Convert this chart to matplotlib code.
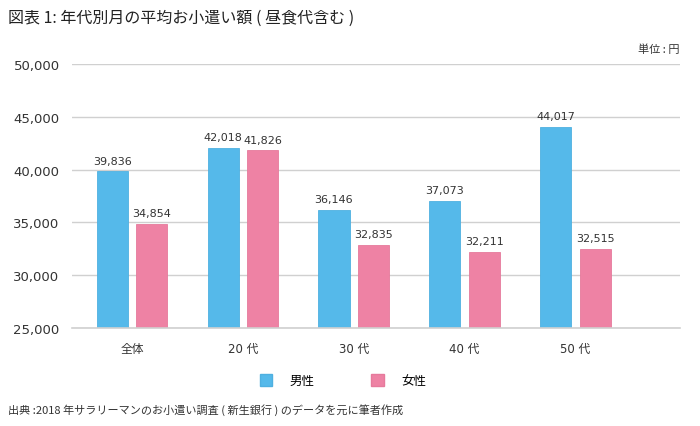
import matplotlib.pyplot as plt
from matplotlib.patches import Patch
import numpy as np

plt.rcParams['font.family'] = ['Noto Sans CJK JP', 'DejaVu Sans']
num_font = ['DejaVu Sans', 'Noto Sans CJK JP']

categories = ['全体', '20 代', '30 代', '40 代', '50 代']
male = [39836, 42018, 36146, 37073, 44017]
female = [34854, 41826, 32835, 32211, 32515]
yticks = [25000, 30000, 35000, 40000, 45000, 50000]

blue = '#55B9EA'
pink = '#EE82A4'

fig = plt.figure(figsize=(7, 4.27), dpi=100)
ax = fig.add_axes([0.103, 0.2295, 0.868, 0.6183])

x = np.arange(len(categories))
w = 0.28
off = 0.178
ax.bar(x - off, male, w, color=blue, edgecolor='#4fb0e0', linewidth=0.6, zorder=3)
ax.bar(x + off, female, w, color=pink, edgecolor='#e67a9c', linewidth=0.6, zorder=3)

# 棒の上に値を表示
for xi, v in zip(x, male):
    ax.text(xi - off, v + 550, f'{v:,}', ha='center', va='bottom', fontsize=8,
            color='#333333', family=num_font)
for xi, v in zip(x, female):
    ax.text(xi + off, v + 550, f'{v:,}', ha='center', va='bottom', fontsize=8,
            color='#333333', family=num_font)

ax.set_xlim(-0.54, 4.94)
ax.set_ylim(25000, 50000)
ax.set_yticks(yticks)
ax.set_yticklabels([f'{t:,}' for t in yticks], fontsize=9.5, color='#333333', family=num_font)
ax.set_xticks(x)
ax.set_xticklabels(categories, fontsize=8.5, color='#333333', family=num_font)
ax.tick_params(axis='both', length=0)
ax.tick_params(axis='y', pad=9)
ax.tick_params(axis='x', pad=10)
ax.grid(axis='y', color='#d0d0d0', linewidth=1, zorder=0)
ax.axhline(yticks[0], color='#d0d0d0', linewidth=1.2, zorder=4, clip_on=False)
for s in ax.spines.values():
    s.set_visible(False)

handles = [Patch(facecolor=blue, edgecolor='#4fb0e0'), Patch(facecolor=pink, edgecolor='#e67a9c')]
fig.legend(handles, ['男性', '女性'], loc='center', bbox_to_anchor=(0.49, 0.106), ncol=2,
           frameon=False, fontsize=9, handlelength=1.0, handleheight=1.0,
           columnspacing=4.5, handletextpad=1.4)

fig.text(0.011, 0.958, '図表 1: 年代別月の平均お小遣い額 ( 昼食代含む )', fontsize=11.5,
         va='center', ha='left', color='#222222')
fig.text(0.971, 0.883, '単位 : 円', fontsize=8, va='center', ha='right', color='#333333')
fig.text(0.011, 0.04, '出典 :2018 年サラリーマンのお小遣い調査 ( 新生銀行 ) のデータを元に筆者作成',
         fontsize=8, va='center', ha='left', color='#333333')

fig.savefig('out.png', dpi=100)
